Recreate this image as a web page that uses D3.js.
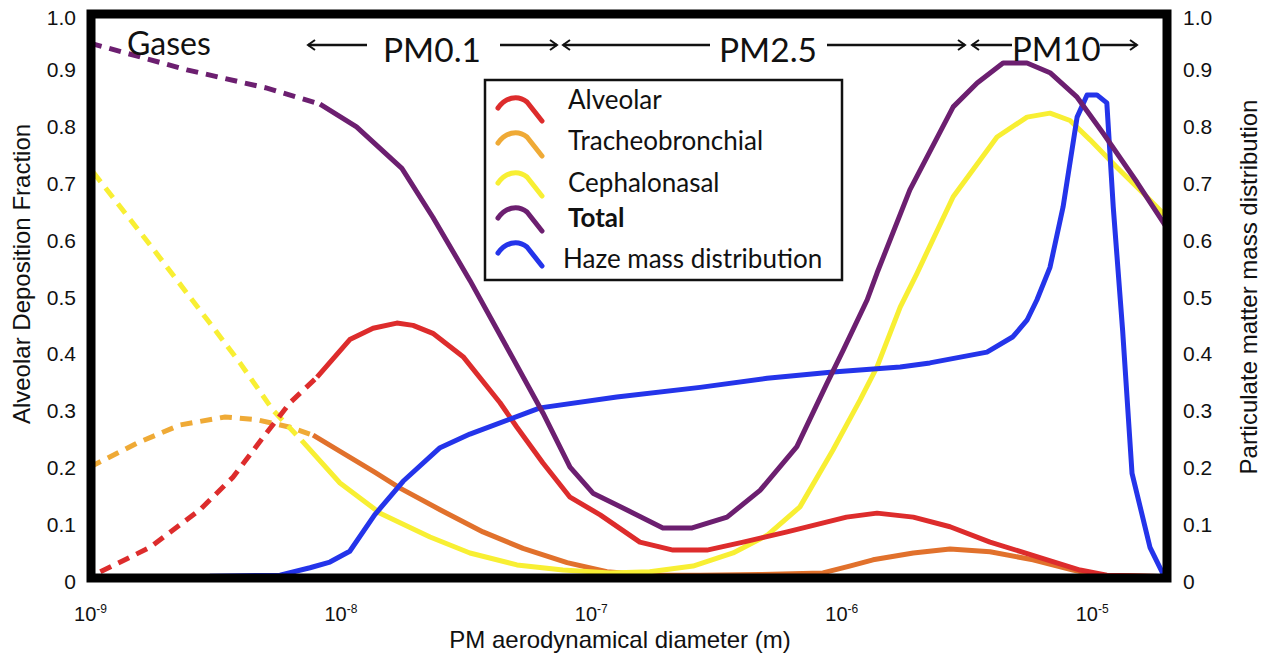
<!DOCTYPE html>
<html><head><meta charset="utf-8">
<script src="https://cdn.jsdelivr.net/npm/d3@7"></script>
<style>body{margin:0;background:#fff;} svg{display:block;}</style>
</head><body>
<svg id="chart" width="1262" height="656"></svg>
<script>
// ---------- DATA (diameter in m, deposition fraction / mass distribution 0..1) ----------
const totalD = [1e-9, 2.44e-9, 5.09e-9, 8.29e-9, 1.16e-8, 1.76e-8, 2.34e-8, 3.29e-8, 4.75e-8, 6.44e-8, 8.26e-8, 1.02e-7, 1.48e-7, 1.94e-7, 2.54e-7, 3.50e-7, 4.74e-7, 6.65e-7, 8.77e-7, 1.02e-6, 1.27e-6, 1.39e-6, 1.88e-6, 2.80e-6, 3.49e-6, 4.43e-6, 5.52e-6, 6.82e-6, 8.75e-6, 1.11e-5, 1.52e-5, 2.0e-5];
const totalV = [0.940, 0.893, 0.861, 0.833, 0.793, 0.720, 0.634, 0.523, 0.396, 0.290, 0.195, 0.149, 0.114, 0.088, 0.088, 0.107, 0.154, 0.231, 0.342, 0.401, 0.489, 0.536, 0.682, 0.828, 0.870, 0.905, 0.905, 0.888, 0.845, 0.782, 0.695, 0.615];
const totalDashEnd = 8.29e-9;

const alveolarD = [1.10e-9, 1.74e-9, 2.75e-9, 3.72e-9, 4.91e-9, 6.29e-9, 8.07e-9, 1.09e-8, 1.35e-8, 1.68e-8, 1.95e-8, 2.34e-8, 3.09e-8, 4.34e-8, 5.07e-8, 6.44e-8, 8.26e-8, 1.09e-7, 1.57e-7, 2.13e-7, 2.91e-7, 4.06e-7, 6.08e-7, 1.05e-6, 1.39e-6, 1.94e-6, 2.72e-6, 3.93e-6, 6.22e-6, 8.99e-6, 1.15e-5, 1.42e-5, 2.0e-5];
const alveolarV = [0.011, 0.054, 0.120, 0.177, 0.247, 0.308, 0.353, 0.419, 0.439, 0.448, 0.444, 0.430, 0.389, 0.308, 0.265, 0.202, 0.142, 0.111, 0.063, 0.049, 0.049, 0.063, 0.081, 0.107, 0.114, 0.107, 0.090, 0.063, 0.036, 0.014, 0.005, 0.004, 0.002];
const alveolarDashEnd = 8.07e-9;

const trachD = [1e-9, 1.54e-9, 2.29e-9, 3.46e-9, 4.65e-9, 6.29e-9, 7.78e-9, 1.02e-8, 1.37e-8, 1.73e-8, 2.50e-8, 3.71e-8, 5.36e-8, 8.04e-8, 1.16e-7, 1.72e-7, 2.73e-7, 4.74e-7, 8.45e-7, 1.08e-6, 1.34e-6, 1.94e-6, 2.72e-6, 3.93e-6, 5.83e-6, 8.43e-6, 1.05e-5, 1.42e-5, 2.0e-5];
const trachV = [0.195, 0.237, 0.269, 0.283, 0.278, 0.265, 0.251, 0.220, 0.186, 0.158, 0.120, 0.081, 0.052, 0.027, 0.011, 0.005, 0.005, 0.006, 0.009, 0.021, 0.032, 0.044, 0.051, 0.046, 0.032, 0.014, 0.005, 0.004, 0.002];
const trachDashEnd = 7.78e-9;

const cephD = [1.03e-9, 1.74e-9, 3.01e-9, 3.97e-9, 5.38e-9, 7.0e-9, 9.96e-9, 1.44e-8, 2.28e-8, 3.29e-8, 5.07e-8, 7.74e-8, 1.19e-7, 1.72e-7, 2.56e-7, 3.70e-7, 5.06e-7, 6.84e-7, 9.27e-7, 1.19e-6, 1.39e-6, 1.72e-6, 2.01e-6, 2.80e-6, 4.19e-6, 5.52e-6, 6.82e-6, 8.20e-6, 9.86e-6, 1.26e-5, 1.60e-5, 2.0e-5];
const cephV = [0.713, 0.585, 0.448, 0.378, 0.295, 0.242, 0.167, 0.114, 0.072, 0.044, 0.023, 0.014, 0.009, 0.011, 0.021, 0.044, 0.075, 0.125, 0.225, 0.313, 0.371, 0.476, 0.536, 0.670, 0.775, 0.810, 0.817, 0.804, 0.770, 0.722, 0.677, 0.634];
const cephDashEnd = 7.0e-9;

const hazeD = [3.01e-9, 5.74e-9, 7.56e-9, 9.08e-9, 1.09e-8, 1.37e-8, 1.78e-8, 2.50e-8, 3.29e-8, 6.27e-8, 1.27e-7, 2.73e-7, 5.06e-7, 9.27e-7, 1.72e-6, 2.26e-6, 3.82e-6, 4.85e-6, 5.52e-6, 6.05e-6, 6.82e-6, 7.69e-6, 8.75e-6, 9.59e-6, 1.05e-5, 1.15e-5, 1.22e-5, 1.33e-5, 1.45e-5, 1.71e-5, 1.95e-5];
const hazeV = [0.003, 0.005, 0.018, 0.028, 0.047, 0.111, 0.170, 0.229, 0.253, 0.299, 0.318, 0.335, 0.351, 0.362, 0.371, 0.378, 0.397, 0.424, 0.453, 0.489, 0.546, 0.652, 0.810, 0.849, 0.849, 0.835, 0.652, 0.435, 0.184, 0.054, 0.003];

const yTicks = [0, 0.1, 0.2, 0.3, 0.4, 0.5, 0.6, 0.7, 0.8, 0.9, 1.0];
const xTicks = [1e-9, 1e-8, 1e-7, 1e-6, 1e-5];
const legendNames = ["Alveolar", "Tracheobronchial", "Cephalonasal", "Total", "Haze mass distribution"];

// ---------- CHART ----------
const svg = d3.select("#chart");
const x = d3.scaleLog().domain([1e-9, 2e-5]).range([90, 1167]);
const y = d3.scaleLinear().domain([0, 1]).range([578, 9]);
const frame = {left: 91, right: 1167, top: 14, bottom: 578};

const C = {
  red: "#dd2c2c", orangeDash: "#efaa36", orange: "#e1712c",
  yellow: "#f8ef33", purple: "#6c1f70", blue: "#2434ea"
};

const series = [
  {d: trachD, v: trachV, dashEnd: trachDashEnd, color: C.orange, dashColor: C.orangeDash},
  {d: cephD, v: cephV, dashEnd: cephDashEnd, color: C.yellow, dashColor: C.yellow},
  {d: alveolarD, v: alveolarV, dashEnd: alveolarDashEnd, color: C.red, dashColor: C.red},
  {d: hazeD, v: hazeV, dashEnd: 0, color: C.blue, dashColor: C.blue},
  {d: totalD, v: totalV, dashEnd: totalDashEnd, color: C.purple, dashColor: C.purple}
];

const line = d3.line().x(p => x(p[0])).y(p => y(p[1]));
const gLines = svg.append("g");
series.forEach(s => {
  const pts = s.d.map((di, i) => [di, s.v[i]]);
  const dashed = pts.filter(p => p[0] <= s.dashEnd);
  const solid = pts.filter(p => p[0] >= s.dashEnd);
  if (dashed.length > 1) {
    gLines.append("path").attr("d", line(dashed)).attr("fill", "none")
      .attr("stroke", s.dashColor).attr("stroke-width", 5)
      .attr("stroke-dasharray", "12,8");
  }
  gLines.append("path").attr("d", line(solid)).attr("fill", "none")
    .attr("stroke", s.color).attr("stroke-width", 5)
    .attr("stroke-linejoin", "round");
});

// frame
svg.append("rect").attr("x", frame.left).attr("y", frame.top)
  .attr("width", frame.right - frame.left).attr("height", frame.bottom - frame.top)
  .attr("fill", "none").attr("stroke", "#000").attr("stroke-width", 9);

// axes
const fmt = d => d === 0 ? "0" : d.toFixed(1);
const tickFont = "'Liberation Sans', Arial, Helvetica, sans-serif";
const gl = svg.append("g").attr("transform", `translate(${frame.left},0)`)
  .call(d3.axisLeft(y).tickValues(yTicks).tickSize(0).tickPadding(15).tickFormat(fmt));
const gr = svg.append("g").attr("transform", `translate(${frame.right},0)`)
  .call(d3.axisRight(y).tickValues(yTicks).tickSize(0).tickPadding(16).tickFormat(fmt));
[gl, gr].forEach(g => {
  g.select(".domain").remove();
  g.selectAll("text").attr("font-family", tickFont).attr("font-size", 21)
    .attr("fill", "#111").attr("dy", d => d === 1 ? "0.75em" : "0.5em");
});
const gx = svg.append("g").attr("transform", `translate(0,${frame.bottom})`)
  .call(d3.axisBottom(x).tickValues(xTicks).tickSize(0).tickFormat(""));
gx.select(".domain").remove();
gx.selectAll(".tick text").each(function(d) {
  const t = d3.select(this);
  t.text(null).attr("y", 43).attr("dy", 0).attr("font-family", tickFont)
    .attr("font-size", 20).attr("fill", "#111").attr("text-anchor", "middle");
  t.append("tspan").text("10");
  t.append("tspan").attr("dy", -8).attr("font-size", 12).text(String(Math.round(Math.log10(d))));
});

// axis titles
svg.append("text").attr("x", 620).attr("y", 648).attr("text-anchor", "middle")
  .attr("font-family", tickFont).attr("font-size", 24).attr("fill", "#111")
  .text("PM aerodynamical diameter (m)");
svg.append("text").attr("transform", "translate(30,274) rotate(-90)").attr("text-anchor", "middle")
  .attr("font-family", tickFont).attr("font-size", 24).attr("fill", "#111")
  .text("Alveolar Deposition Fraction");
svg.append("text").attr("transform", "translate(1257,287) rotate(-90)").attr("text-anchor", "middle")
  .attr("font-family", tickFont).attr("font-size", 24).attr("fill", "#111")
  .text("Particulate matter mass distribution");

// annotations
const annFont = "Lato, 'Open Sans', sans-serif";
const ann = svg.append("g").attr("font-family", annFont).attr("fill", "#111");
ann.append("text").attr("x", 127).attr("y", 55).attr("font-size", 32).text("Gases");
ann.append("text").attr("x", 383).attr("y", 62).attr("font-size", 33.5).text("PM0.1");
ann.append("text").attr("x", 719).attr("y", 62).attr("font-size", 33.5).text("PM2.5");
ann.append("text").attr("x", 1012).attr("y", 61).attr("font-size", 33).text("PM10");
const arrows = [[308, 367, "l"], [500, 557, "r"], [563, 710, "l"], [827, 965, "r"], [972, 1012, "l"], [1100, 1137, "r"]];
const ay = 45;
arrows.forEach(([a, b, dir]) => {
  svg.append("line").attr("x1", a).attr("x2", b).attr("y1", ay).attr("y2", ay)
    .attr("stroke", "#111").attr("stroke-width", 2.5);
  const hx = dir === "l" ? a : b, s = dir === "l" ? 1 : -1;
  svg.append("path").attr("d", `M${hx + 7 * s},${ay - 5} L${hx},${ay} L${hx + 7 * s},${ay + 5}`)
    .attr("fill", "none").attr("stroke", "#111").attr("stroke-width", 2);
});

// legend
svg.append("rect").attr("x", 485).attr("y", 80).attr("width", 357).attr("height", 200)
  .attr("fill", "#fff").attr("stroke", "#111").attr("stroke-width", 2.5);
const legColors = [C.red, C.orangeDash, C.yellow, C.purple, C.blue];
const iconTop = [97, 132, 172, 207, 242];
const textBase = [109, 150, 192, 227, 268];
legendNames.forEach((n, i) => {
  svg.append("path").attr("transform", `translate(498,${iconTop[i]})`)
    .attr("d", "M0,11 C7,1 19,-3 29,5 L44,24").attr("fill", "none")
    .attr("stroke", legColors[i]).attr("stroke-width", 5).attr("stroke-linecap", "round");
  svg.append("text").attr("x", i === 4 ? 563 : 568).attr("y", textBase[i])
    .attr("font-family", annFont).attr("font-size", 26).attr("fill", "#111")
    .attr("font-weight", i === 3 ? "bold" : "normal").text(n);
});
</script>
</body></html>
